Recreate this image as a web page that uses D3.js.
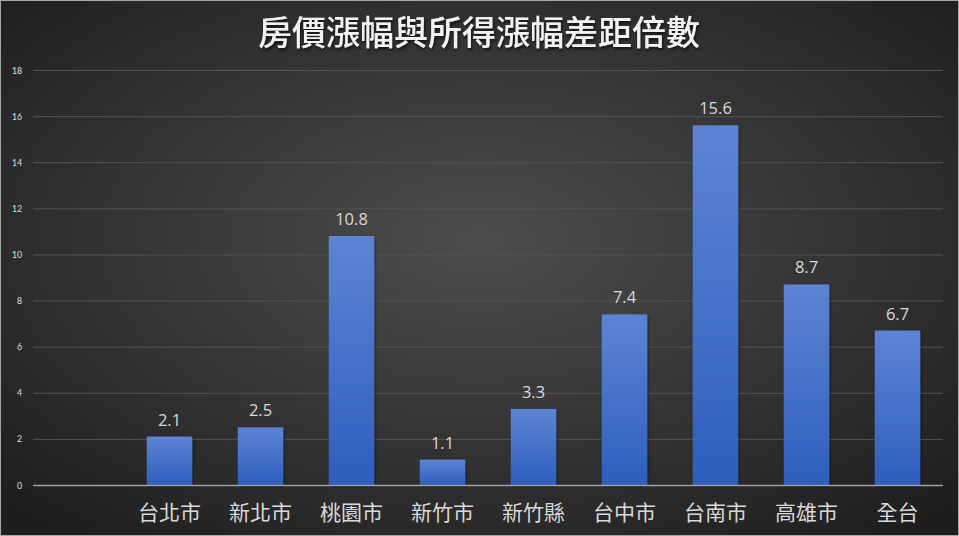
<!DOCTYPE html>
<html><head><meta charset="utf-8">
<script src="https://cdn.jsdelivr.net/npm/d3@7"></script>
<style>html,body{margin:0;padding:0;background:#2a2a2a;}svg{display:block;}</style>
</head><body>
<script>
const categories = ["", "台北市", "新北市", "桃園市", "新竹市", "新竹縣", "台中市", "台南市", "高雄市", "全台"];
const values = [null, 2.1, 2.5, 10.8, 1.1, 3.3, 7.4, 15.6, 8.7, 6.7];
const yTicks = [0, 2, 4, 6, 8, 10, 12, 14, 16, 18];
const title = "房價漲幅與所得漲幅差距倍數";

const W = 959, H = 536;
const svg = d3.select("body").append("svg").attr("width", W).attr("height", H);
const defs = svg.append("defs");
const bg = defs.append("radialGradient").attr("id", "bg").attr("cx", "50%").attr("cy", "45%").attr("r", "70%");
bg.append("stop").attr("offset", "0%").attr("stop-color", "#4d4d4d");
bg.append("stop").attr("offset", "100%").attr("stop-color", "#1e1e1e");
const bar = defs.append("linearGradient").attr("id", "bar").attr("x1", 0).attr("y1", 0).attr("x2", 0).attr("y2", 1);
bar.append("stop").attr("offset", "0%").attr("stop-color", "#5d84d4");
bar.append("stop").attr("offset", "100%").attr("stop-color", "#2e5ebd");
const sh = defs.append("filter").attr("id", "sh").attr("x", "-10%").attr("y", "-10%").attr("width", "130%").attr("height", "140%");
sh.append("feDropShadow").attr("dx", 1).attr("dy", 1.5).attr("stdDeviation", 1.2).attr("flood-color", "#000").attr("flood-opacity", 0.5);
const tsh = defs.append("filter").attr("id", "tsh").attr("x", "-10%").attr("y", "-20%").attr("width", "130%").attr("height", "160%");
tsh.append("feDropShadow").attr("dx", 1).attr("dy", 2).attr("stdDeviation", 1.5).attr("flood-color", "#000").attr("flood-opacity", 0.7);

svg.append("rect").attr("x", 0).attr("y", 0).attr("width", W).attr("height", H).attr("fill", "url(#bg)");
svg.append("rect").attr("x", 0.5).attr("y", 0.5).attr("width", W - 1).attr("height", H - 1).attr("fill", "none").attr("stroke", "#a6a6a6").attr("stroke-width", 1);

const x = d3.scaleBand().domain(categories.map((d, i) => i)).range([33, 943]).paddingInner(0.5).paddingOuter(0.25);
const y = d3.scaleLinear().domain([0, 18]).range([485, 70]);

// grid
svg.append("g").selectAll("line").data(yTicks.filter(d => d > 0)).join("line")
  .attr("x1", 33).attr("x2", 943).attr("y1", d => y(d) + 0.5).attr("y2", d => y(d) + 0.5)
  .attr("stroke", "#525252").attr("stroke-width", 1);

// y tick labels
svg.append("g").selectAll("text").data(yTicks).join("text")
  .attr("x", 22).attr("y", d => y(d)).attr("dy", "0.35em").attr("text-anchor", "end")
  .attr("font-family", "Calibri, 'Liberation Sans', 'Noto Sans', sans-serif").attr("font-size", 10)
  .attr("fill", "#d9d9d9").text(d => d);

// bars
const data = categories.map((c, i) => ({c, v: values[i], i})).filter(d => d.v != null);
svg.append("g").selectAll("rect").data(data).join("rect")
  .attr("x", d => x(d.i)).attr("y", d => y(d.v)).attr("width", x.bandwidth()).attr("height", d => y(0) - y(d.v))
  .attr("fill", "url(#bar)").attr("filter", "url(#sh)");

// axis line
svg.append("line").attr("x1", 33).attr("x2", 943).attr("y1", y(0) + 0.5).attr("y2", y(0) + 0.5)
  .attr("stroke", "#a0a0a0").attr("stroke-width", 1.5);

// value labels
svg.append("g").selectAll("text").data(data).join("text")
  .attr("x", d => x(d.i) + x.bandwidth() / 2).attr("y", d => y(d.v) - 11)
  .attr("text-anchor", "middle").attr("font-family", "'Open Sans', 'Noto Sans', sans-serif").attr("font-size", 16.5)
  .attr("fill", "#d9d9d9").text(d => d.v.toFixed(1));

// category labels
svg.append("g").selectAll("text").data(data).join("text")
  .attr("x", d => x(d.i) + x.bandwidth() / 2).attr("y", 520)
  .attr("text-anchor", "middle").attr("font-family", "'Noto Sans CJK TC', sans-serif").attr("font-size", 21)
  .attr("fill", "#d9d9d9").text(d => d.c);

// title
svg.append("text").attr("x", 479).attr("y", 45).attr("text-anchor", "middle")
  .attr("font-family", "'Noto Sans CJK TC', sans-serif").attr("font-size", 34).attr("font-weight", 500)
  .attr("fill", "#f2f2f2").attr("filter", "url(#tsh)").text(title);
</script>
</body></html>
